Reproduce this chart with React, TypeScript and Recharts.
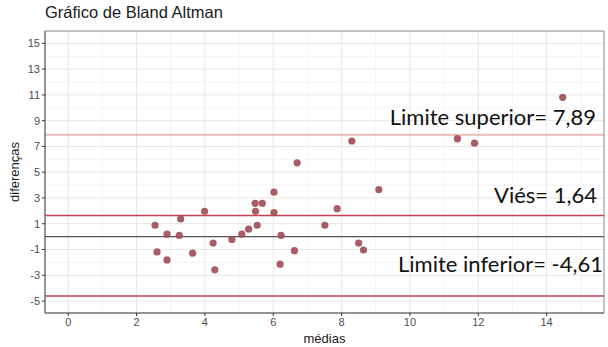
import React from "react";
import {
  ScatterChart,
  Scatter,
  XAxis,
  YAxis,
  CartesianGrid,
  ReferenceLine,
  ReferenceArea,
} from "recharts";

const medias = [
  2.54, 2.6, 2.89, 2.89, 3.25, 3.29, 3.64, 3.99, 4.24, 4.29, 4.79, 5.08, 5.28,
  5.47, 5.68, 5.48, 5.53, 6.02, 6.02, 6.23, 6.2, 6.62, 6.7, 7.51, 7.87, 8.3,
  8.5, 8.64, 9.09, 11.39, 11.89, 14.47,
];
const diferencas = [
  0.88, -1.19, 0.19, -1.81, 0.09, 1.37, -1.29, 1.96, -0.5, -2.58, -0.22, 0.19,
  0.58, 2.58, 2.58, 1.96, 0.88, 3.45, 1.86, 0.09, -2.14, -1.09, 5.73, 0.88,
  2.17, 7.42, -0.5, -1.04, 3.65, 7.6, 7.25, 10.81,
];
const vies = 1.64;
const limiteSuperior = 7.89;
const limiteInferior = -4.61;
const xTicks = [0, 2, 4, 6, 8, 10, 12, 14];
const yTicks = [-5, -3, -1, 1, 3, 5, 7, 9, 11, 13, 15];
const xMinor = [1, 3, 5, 7, 9, 11, 13, 15];
const yMinor = [-4, -2, 0, 2, 4, 6, 8, 10, 12, 14];
const xDomain: [number, number] = [-0.68, 15.68];
const yDomain: [number, number] = [-5.93, 15.96];

const data = medias.map((m, i) => ({ x: m, y: diferencas[i] }));

const tickFont = { fontFamily: "Liberation Sans, Arial, sans-serif", fontSize: 11, fill: "#4d4d4d" };

const Note = (props: any) => {
  const { viewBox, text, dy, dx } = props;
  if (!viewBox) return null;
  return (
    <text
      x={viewBox.x + viewBox.width + (dx || 0)}
      y={viewBox.y + dy}
      textAnchor="end"
      fontFamily="Lato, 'Open Sans', sans-serif"
      fontSize={22}
      fill="#111"
    >
      {text}
    </text>
  );
};

export default function App() {
  return (
    <div style={{ position: "absolute", left: 0, top: 0, width: 608, height: 347, background: "#fff" }}>
      <div
        style={{
          position: "absolute",
          left: 45,
          top: 3,
          fontFamily: "Liberation Sans, Arial, sans-serif",
          fontSize: 16.5,
          color: "#1a1a1a",
          whiteSpace: "nowrap",
        }}
      >
        Gráfico de Bland Altman
      </div>
      <ScatterChart width={608} height={347} margin={{ top: 31, right: 4, bottom: 0, left: 0 }}>
        <CartesianGrid
          stroke="#ededed"
          strokeWidth={0.6}
          horizontalValues={yMinor}
          verticalValues={xMinor}
        />
        <CartesianGrid
          stroke="#e6e6e6"
          strokeWidth={1}
          horizontalValues={yTicks}
          verticalValues={xTicks}
        />
        <XAxis
          type="number"
          dataKey="x"
          domain={xDomain}
          ticks={xTicks}
          allowDataOverflow
          height={34}
          tick={tickFont}
          tickSize={3}
          tickLine={{ stroke: "#333" }}
          axisLine={{ stroke: "#666" }}
          label={{
            value: "médias",
            position: "insideBottom",
            offset: 4,
            style: { fontFamily: "Liberation Sans, Arial, sans-serif", fontSize: 13, fill: "#1a1a1a" },
          }}
        />
        <YAxis
          type="number"
          dataKey="y"
          domain={yDomain}
          ticks={yTicks}
          allowDataOverflow
          width={45}
          tick={tickFont}
          tickSize={3}
          tickLine={{ stroke: "#333" }}
          axisLine={{ stroke: "#666" }}
          label={{
            value: "diferenças",
            angle: -90,
            position: "insideLeft",
            offset: 14,
            style: { textAnchor: "middle", fontFamily: "Liberation Sans, Arial, sans-serif", fontSize: 13, fill: "#1a1a1a" },
          }}
        />
        <ReferenceArea
          x1={xDomain[0]}
          x2={xDomain[1]}
          y1={yDomain[0]}
          y2={yDomain[1]}
          fill="none"
          stroke="#888"
          strokeWidth={1}
        />
        <ReferenceLine y={0} stroke="#555" strokeWidth={1.3} />
        <ReferenceLine
          y={limiteSuperior}
          stroke="#d98585"
          strokeWidth={1}
          label={<Note text="Limite superior= 7,89" dy={-10} dx={-8} />}
        />
        <ReferenceLine
          y={vies}
          stroke="#cc3f4c"
          strokeWidth={1.3}
          label={<Note text="Viés= 1,64" dy={-12} dx={-7} />}
        />
        <ReferenceLine
          y={limiteInferior}
          stroke="#b84757"
          strokeWidth={1.6}
          label={<Note text="Limite inferior= -4,61" dy={-24} dx={-1} />}
        />
        <Scatter
          data={data}
          fill="#9e4a52"
          isAnimationActive={false}
          shape={(p: any) => <circle cx={p.cx} cy={p.cy} r={3.6} fill="#9e4a52" fillOpacity={0.9} />}
        />
      </ScatterChart>
    </div>
  );
}
